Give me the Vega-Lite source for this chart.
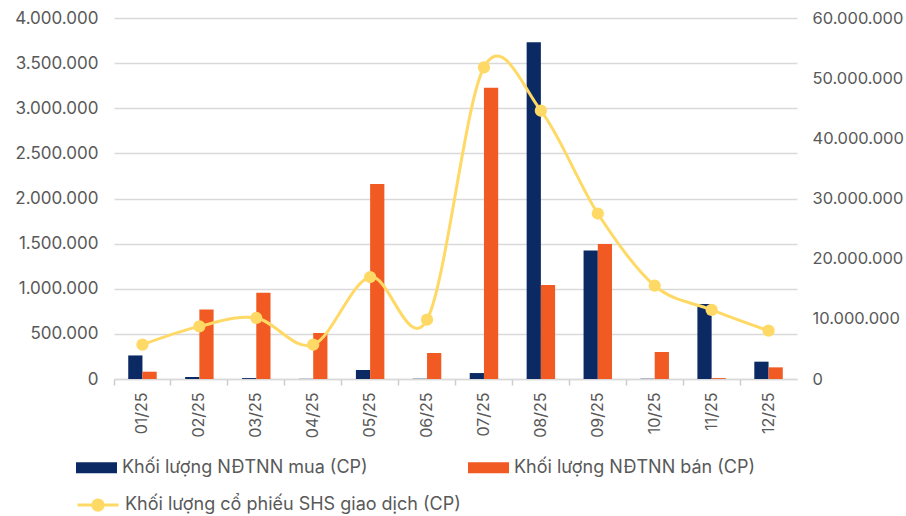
{
  "$schema": "https://vega.github.io/schema/vega-lite/v6.json",
  "autosize": {"type": "none"},
  "padding": {"left": 114, "top": 18, "right": 109, "bottom": 137},
  "width": 683,
  "height": 361,
  "background": "#ffffff",
  "config": {
    "view": {"stroke": null},
    "font": "Inter",
    "locale": {"number": {"decimal": ",", "thousands": ".", "grouping": [3], "currency": ["", ""]}},
    "axis": {"labelFont": "Inter", "labelColor": "#595959", "labelFontSize": 16}
  },
  "data": {
    "values": [
      {"month": "01/25", "mua": 261000, "ban": 81000, "gd": 5700000},
      {"month": "02/25", "mua": 22000, "ban": 771000, "gd": 8740000},
      {"month": "03/25", "mua": 10000, "ban": 956000, "gd": 10140000},
      {"month": "04/25", "mua": 2000, "ban": 510000, "gd": 5700000},
      {"month": "05/25", "mua": 100000, "ban": 2160000, "gd": 16950000},
      {"month": "06/25", "mua": 3000, "ban": 288000, "gd": 9860000},
      {"month": "07/25", "mua": 66000, "ban": 3228000, "gd": 51800000},
      {"month": "08/25", "mua": 3730000, "ban": 1041000, "gd": 44600000},
      {"month": "09/25", "mua": 1425000, "ban": 1496000, "gd": 27500000},
      {"month": "10/25", "mua": 3000, "ban": 299000, "gd": 15500000},
      {"month": "11/25", "mua": 831000, "ban": 10000, "gd": 11500000},
      {"month": "12/25", "mua": 192000, "ban": 129000, "gd": 8030000}
    ]
  },
  "encoding": {
    "x": {
      "field": "month", "type": "nominal", "sort": null,
      "scale": {"paddingInner": 0.5, "paddingOuter": 0.25},
      "axis": {
        "title": null, "labelAngle": -90, "bandPosition": -0.5,
        "tickSize": 6, "tickColor": "#cccccc", "tickWidth": 1.5,
        "domainColor": "#d9d9d9", "domainWidth": 1.5,
        "labelPadding": 7, "labelFontSize": 16, "grid": false
      }
    }
  },
  "layer": [
    {
      "transform": [{"fold": ["mua", "ban"], "as": ["key", "value"]}],
      "mark": {"type": "bar"},
      "encoding": {
        "xOffset": {"field": "key", "type": "nominal", "sort": ["mua", "ban"], "scale": {"paddingInner": 0, "paddingOuter": 0}},
        "y": {
          "field": "value", "type": "quantitative",
          "scale": {"domain": [0, 4000000]},
          "axis": {
            "title": null, "values": [0, 500000, 1000000, 1500000, 2000000, 2500000, 3000000, 3500000, 4000000],
            "format": ",d", "ticks": false, "domain": false, "labelPadding": 16,
            "gridColor": "#d9d9d9", "gridWidth": 1.5, "labelFontSize": 17
          }
        },
        "color": {
          "field": "key", "type": "nominal",
          "scale": {"domain": ["mua", "ban"], "range": ["#0B2A63", "#F15A22"]},
          "legend": {
            "title": null, "orient": "none", "legendX": -38, "legendY": 429,
            "direction": "horizontal", "columns": 2, "columnPadding": 100, "padding": 0,
            "labelExpr": "datum.label == 'mua' ? 'Khối lượng NĐTNN mua (CP)' : 'Khối lượng NĐTNN bán (CP)'",
            "symbolType": "M-1,-0.27H1V0.27H-1Z", "symbolSize": 1681, "symbolStrokeWidth": 0,
            "labelFont": "Inter", "labelFontSize": 18, "labelColor": "#595959", "labelOffset": 5, "labelLimit": 400
          }
        }
      }
    },
    {
      "mark": {"type": "line", "interpolate": "cardinal", "strokeWidth": 3},
      "encoding": {
        "y": {
          "field": "gd", "type": "quantitative",
          "scale": {"domain": [0, 60000000]},
          "axis": {
            "title": null, "orient": "right", "values": [0, 10000000, 20000000, 30000000, 40000000, 50000000, 60000000],
            "format": ",d", "ticks": false, "domain": false, "grid": false, "labelPadding": 15, "labelFontSize": 16.5
          }
        },
        "stroke": {
          "datum": "Khối lượng cổ phiếu SHS giao dịch (CP)",
          "scale": {"range": ["#FFD966"]},
          "legend": {
            "title": null, "orient": "none", "legendX": -38, "legendY": 465, "padding": 0,
            "symbolType": "M-1,0H1M0.25,0A0.25,0.25 0 1,1 -0.25,0A0.25,0.25 0 1,1 0.25,0Z",
            "symbolSize": 1681, "symbolStrokeWidth": 3, "symbolFillColor": "#FFD966", "symbolStrokeColor": "#FFD966",
            "labelFont": "Inter", "labelFontSize": 18, "labelColor": "#595959", "labelOffset": 5, "labelLimit": 500
          }
        }
      }
    },
    {
      "mark": {"type": "point", "filled": true, "size": 150, "color": "#FFD966", "opacity": 1},
      "encoding": {
        "y": {"field": "gd", "type": "quantitative", "scale": {"domain": [0, 60000000]}, "axis": null}
      }
    }
  ],
  "resolve": {"scale": {"y": "independent"}}
}
